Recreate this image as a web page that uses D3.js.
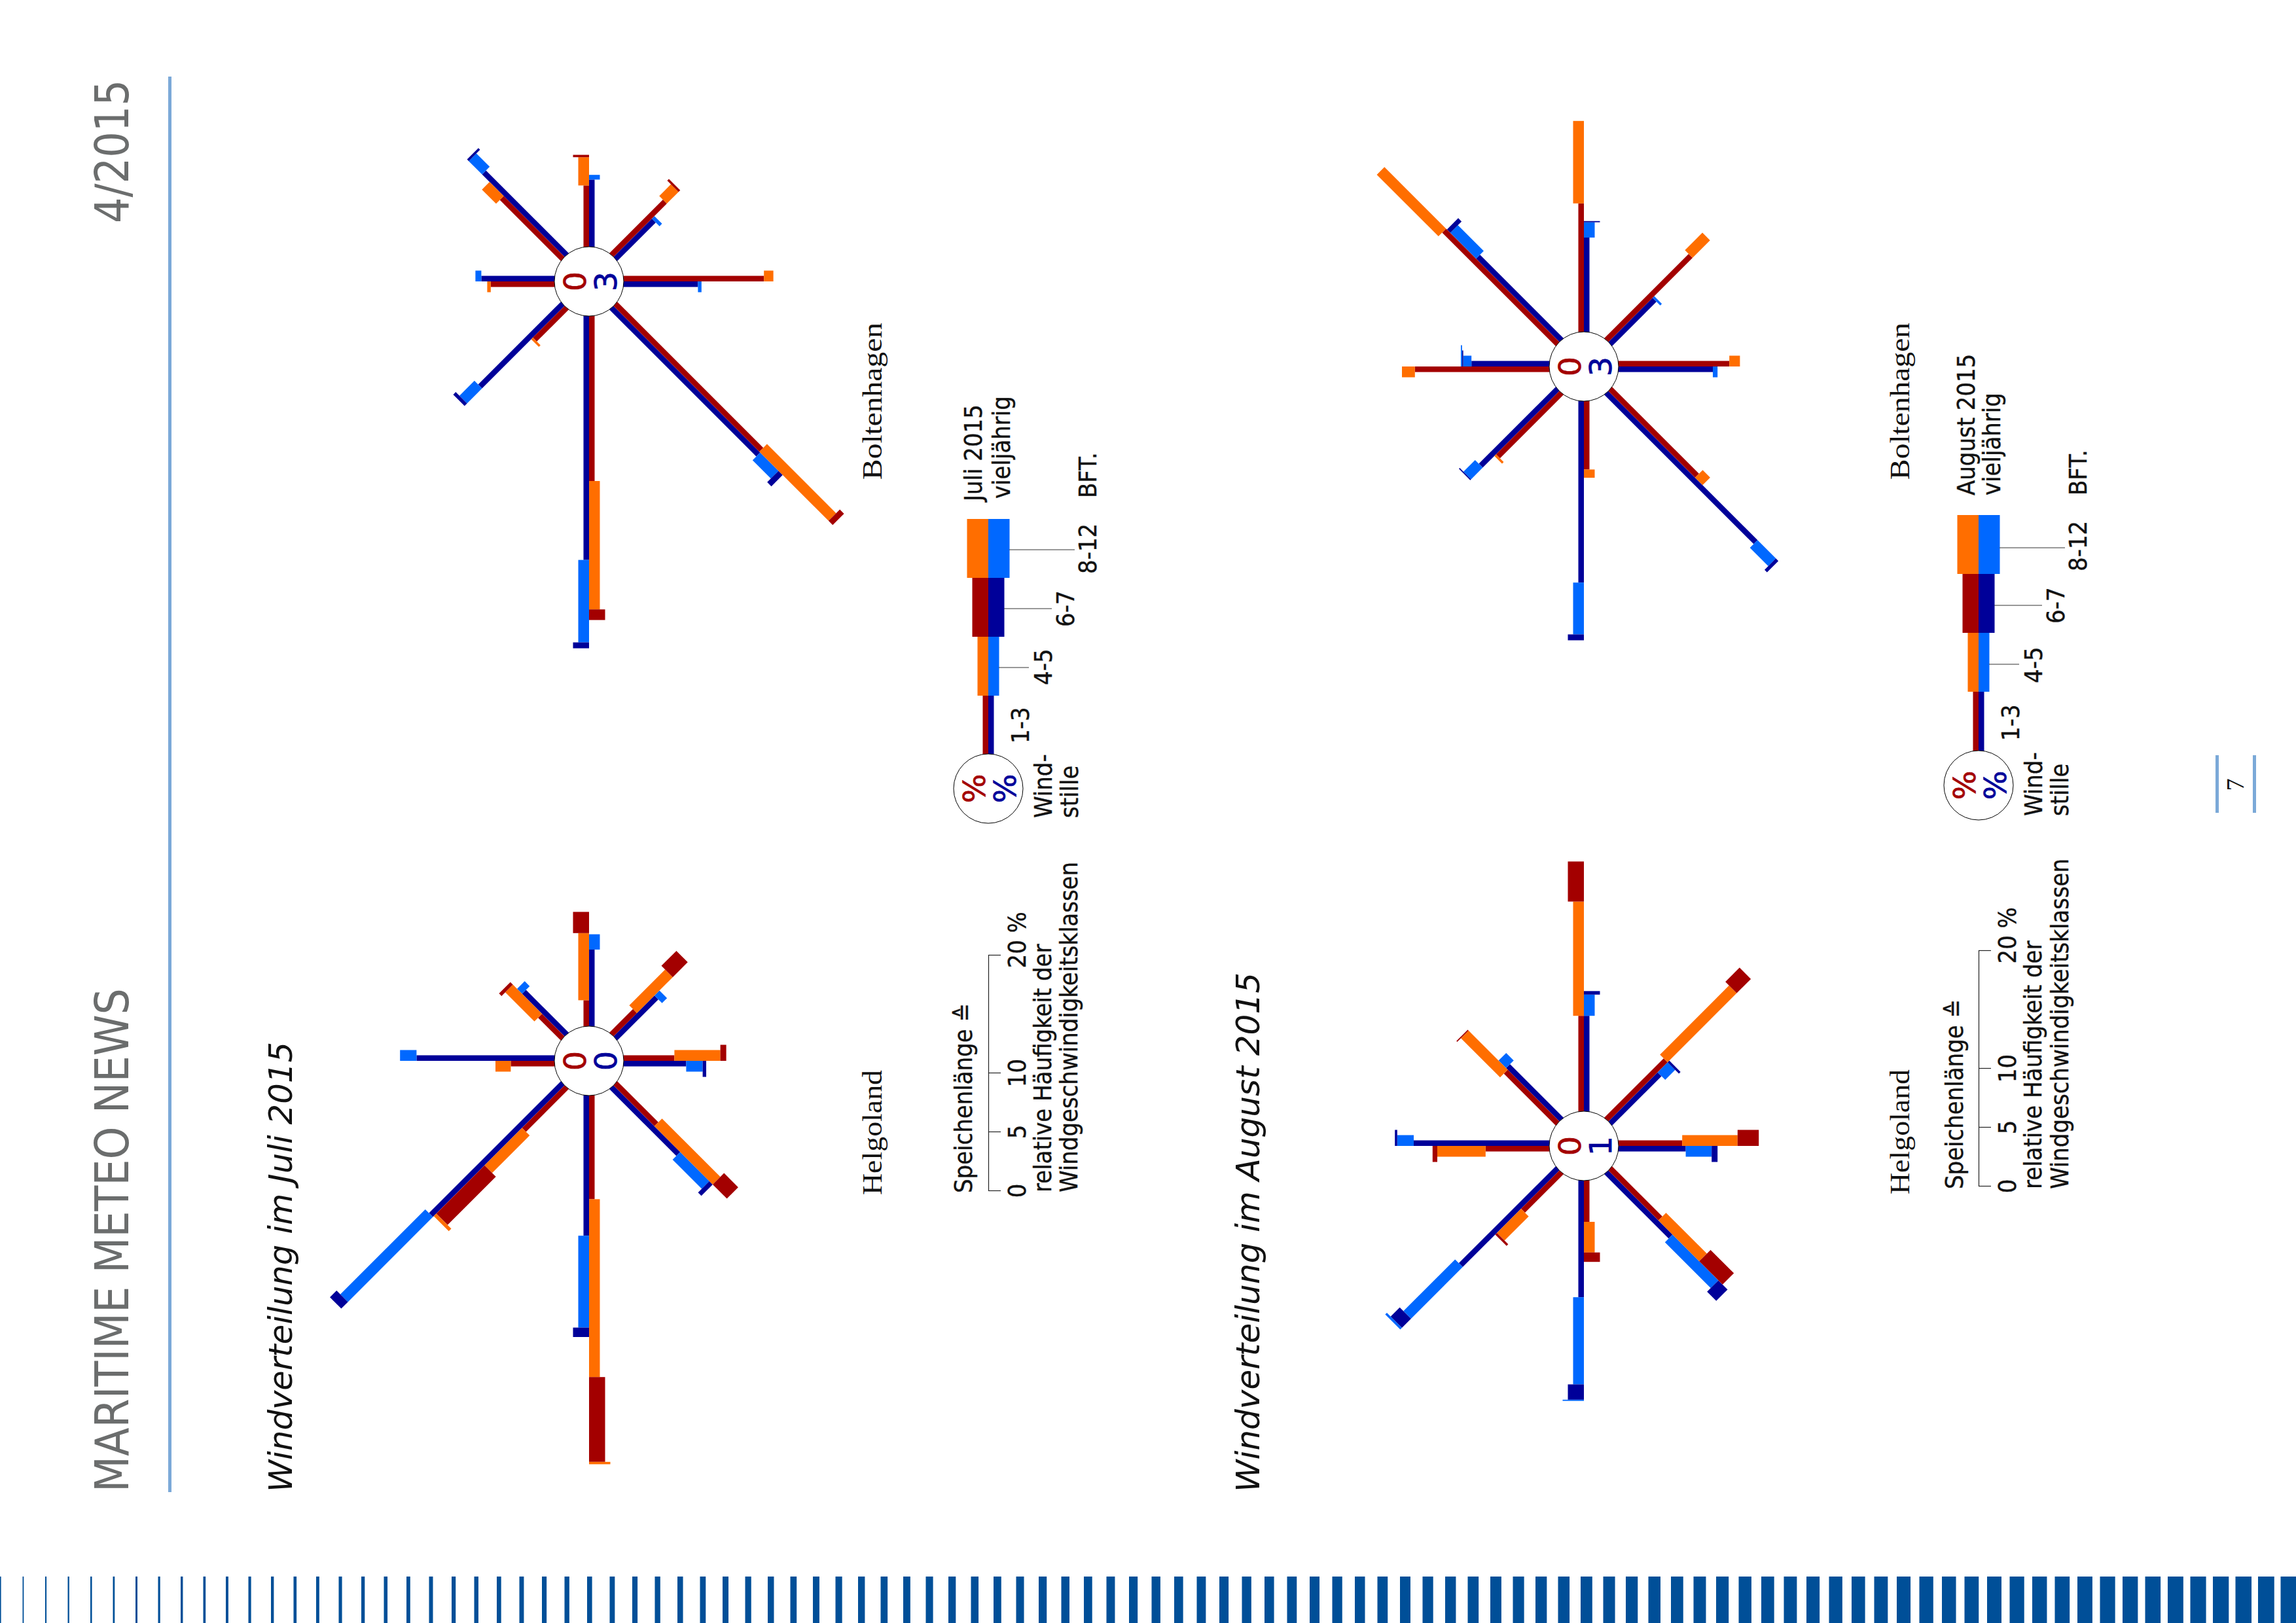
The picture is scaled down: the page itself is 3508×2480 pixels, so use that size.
<!DOCTYPE html>
<html>
<head>
<meta charset="utf-8">
<title>Windverteilung</title>
<script src="https://cdn.jsdelivr.net/npm/d3@7"></script>
<style>
  html, body { margin: 0; padding: 0; background: #fff; }
  svg { display: block; }
</style>
</head>
<body>
<div id="page"></div>
<script>
// Wind directions, clockwise from north (north points to the left of the sideways page)
var directions = ["N", "NE", "E", "SE", "S", "SW", "W", "NW"];

// Beaufort classes, inner to outer
var classes = ["1-3", "4-5", "6-7", "8-12"];

// Share in percent per direction and class: [1-3, 4-5, 6-7, 8-12]
var helgolandJuli = [[3.7, 1.3, 0, 0], [2.7, 3.5, 0.3, 0], [2.2, 5.7, 1.8, 0], [2.8, 4.3, 1.8, 0],
    [4.3, 3.9, 0.5, 0], [4.9, 7.0, 1.7, 0], [8.8, 15.1, 7.2, 0.2], [5.1, 4.5, 5.8, 0.3]];
var helgolandJuliNorm = [[11.7, 1.4, 0, 0], [5.1, 0.6, 0, 0], [6.5, 1.3, 0, 0], [4.9, 0.6, 0, 0],
    [5.3, 1.4, 0.3, 0], [8.0, 3.5, 0.4, 0], [11.9, 7.8, 0.8, 0], [15.8, 10.2, 0.8, 0]];
var boltenhagenJuli = [[5.4, 0.3, 0, 0], [7.3, 1.7, 0, 0], [5.2, 2.4, 0.2, 0], [6.4, 1.4, 0.2, 0],
    [11.9, 0.8, 0, 0], [17.5, 8.3, 0.5, 0], [14.0, 10.9, 0.9, 0], [3.8, 0.2, 0, 0]];
var boltenhagenJuliNorm = [[6.2, 0.5, 0, 0], [9.9, 1.6, 0.2, 0], [5.7, 0.4, 0, 0], [4.6, 0.3, 0, 0],
    [6.3, 0.3, 0, 0], [17.6, 2.2, 0.5, 0], [20.7, 7.0, 0.5, 0], [9.9, 1.8, 0.3, 0]];
var helgolandAugust = [[5.4, 4.1, 0.4, 0], [6.2, 4.7, 0.1, 0], [8.1, 9.7, 3.4, 0], [7.1, 8.3, 1.7, 0],
    [5.4, 4.7, 1.8, 0], [6.0, 4.9, 2.8, 0], [3.5, 2.6, 0.8, 0], [4.6, 2.9, 0.2, 0]];
var helgolandAugustNorm = [[11.5, 1.4, 0.2, 0], [6.4, 0.9, 0, 0], [8.1, 1.8, 0.3, 0], [5.9, 1.2, 0.2, 0],
    [5.7, 2.2, 0.5, 0], [7.7, 5.5, 1.1, 0], [9.9, 7.4, 1.3, 0.1], [11.6, 6.2, 1.1, 0.2]];
var boltenhagenAugust = [[11.4, 1.1, 0, 0], [13.6, 7.4, 0, 0], [10.9, 7.0, 0, 0], [10.1, 2.1, 0, 0],
    [9.4, 0.9, 0, 0], [10.4, 0.9, 0, 0], [5.8, 0.7, 0, 0], [7.6, 0.2, 0, 0]];
var boltenhagenAugustNorm = [[6.6, 0.7, 0.1, 0.1], [10.0, 3.1, 0.4, 0], [8.0, 1.3, 0.1, 0], [5.3, 0.2, 0, 0],
    [8.0, 0.4, 0, 0], [17.9, 2.2, 0.3, 0], [15.4, 4.4, 0.5, 0], [9.2, 1.4, 0.1, 0]];

// Calm share shown in the hub: [month, long-term]
var calmHelgolandJuli = ["0", "0"];
var calmBoltenhagenJuli = ["0", "3"];
var calmHelgolandAugust = ["0", "1"];
var calmBoltenhagenAugust = ["0", "3"];

// Legend
var legendSpoke = [5, 5, 5, 5];
var legendTicks = [0, 5, 10, 20];

var svgWidth = 3508;
var svgHeight = 2480;
var hubRadius = 53;

var monthColors = ["#a30000", "#ff6e00", "#a30000", "#ff6e00"];
var normColors = ["#000099", "#0068ff", "#000099", "#0068ff"];
var grey = "#6b6d6d";
var paleBlue = "#7ba9d8";
var sans = "'DejaVu Sans', sans-serif";
var serif = "'Liberation Serif', serif";

var svg = d3.select("#page")
    .append("svg")
    .attr("width", svgWidth)
    .attr("height", svgHeight)
    .style("background", "#fff");

// spoke length: 20 % = 360 px
var lengthScale = d3.scaleLinear().domain([0, 20]).range([0, 360]);
// spoke thickness per wind class
var widthScale = d3.scaleOrdinal().domain(classes).range([8.5, 16.5, 24.5, 32.5]);
// compass to screen angle, spoke group is drawn pointing up
var angleScale = d3.scalePoint().domain(directions).range([-90, 225]);

// Everything on the page reads bottom to top
function sideText(x, y, str, size, opts) {
    opts = opts || {};
    var t = svg.append("text")
        .attr("transform", `translate(${x}, ${y}) rotate(-90)`)
        .attr("font-family", opts.family || sans)
        .attr("font-size", size)
        .attr("font-style", opts.style || "normal")
        .attr("fill", opts.fill || "#111")
        .attr("text-anchor", opts.anchor || "start")
        .text(str);
    if (opts.length) {
        t.attr("textLength", opts.length).attr("lengthAdjust", "spacingAndGlyphs");
    }
    if (opts.heavy) {
        t.attr("stroke", opts.fill || "#111").attr("stroke-width", opts.heavy);
    }
    return t;
}

// legend lettering is taller than it is wide: keep the length, raise the height
function tallText(t) {
    var len = t.node().getComputedTextLength();
    var size = +t.attr("font-size");
    t.attr("font-size", size * 1.09)
        .attr("textLength", len)
        .attr("lengthAdjust", "spacingAndGlyphs")
        .attr("stroke", "#111")
        .attr("stroke-width", 0.4);
}

// one half of a spoke, side -1 is left of the axis looking outwards
function halfSpoke(group, values, colors, side) {
    var ends = d3.cumsum(values);
    var parts = values.map((v, i) => ({ value: v, end: ends[i], cls: classes[i], color: colors[i], i: i }))
        .filter(d => d.value > 0);

    group.selectAll(null)
        .data(parts)
        .enter()
        .append("rect")
        .attr("x", d => side < 0 ? -widthScale(d.cls) : 0)
        .attr("width", d => widthScale(d.cls))
        .attr("y", d => -(hubRadius + lengthScale(d.end)))
        // first part runs a little under the hub so no gap shows
        .attr("height", d => lengthScale(d.value) + (d.i === 0 ? 5 : 0))
        .attr("fill", d => d.color);
}

function hub(cx, cy, labels) {
    svg.append("circle")
        .attr("cx", cx)
        .attr("cy", cy)
        .attr("r", hubRadius)
        .attr("fill", "#fff")
        .attr("stroke", "#000")
        .attr("stroke-width", 1);
    sideText(cx - 5, cy, labels[0], 47, { anchor: "middle", fill: monthColors[0], heavy: 0.7 });
    sideText(cx + 42, cy, labels[1], 47, { anchor: "middle", fill: normColors[0], heavy: 0.7 });
}

function rose(cx, cy, month, norm, calm) {
    var g = svg.append("g").attr("transform", `translate(${cx}, ${cy})`);
    directions.forEach((dir, i) => {
        var spoke = g.append("g").attr("transform", `rotate(${angleScale(dir)})`);
        halfSpoke(spoke, norm[i], normColors, 1);
        halfSpoke(spoke, month[i], monthColors, -1);
    });
    hub(cx, cy, calm);
}

function legend(cfg) {
    var spoke = svg.append("g").attr("transform", `translate(${cfg.x}, ${cfg.hubY})`);
    var shift = cfg.hubY - cfg.barBase;
    var bars = spoke.append("g").attr("transform", `translate(0, ${-shift + hubRadius})`);
    halfSpoke(bars, legendSpoke, normColors, 1);
    halfSpoke(bars, legendSpoke, monthColors, -1);
    hub(cfg.x, cfg.hubY, ["%", "%"]);

    // leader lines from the three outer classes to their labels
    cfg.leaders.forEach(d => {
        svg.append("line")
            .attr("x1", d[0]).attr("x2", d[1])
            .attr("y1", d[2]).attr("y2", d[2])
            .attr("stroke", "#333")
            .attr("stroke-width", 1);
    });

    // spoke length scale
    var scale = d3.scaleLinear().domain([0, 20]).range([cfg.tick0, cfg.tick0 - lengthScale(20)]);
    var axis = d3.axisRight(scale)
        .tickValues(legendTicks)
        .tickSize(19)
        .tickFormat(d => d === 20 ? "20 %" : d);
    var axisGroup = svg.append("g")
        .attr("transform", `translate(${cfg.x}, 0)`)
        .call(axis);
    axisGroup.selectAll("path, line").attr("stroke", "#222").attr("stroke-width", 1.2);
    axisGroup.selectAll("text")
        .attr("x", null).attr("y", null).attr("dy", null)
        .attr("transform", d => `translate(${cfg.tickText - cfg.x}, ${d === 20 ? 20 : 0}) rotate(-90)`)
        .attr("text-anchor", d => d === 20 ? "start" : "middle")
        .attr("font-family", sans)
        .attr("font-size", 34)
        .attr("fill", "#111")
        .each(function() { tallText(d3.select(this)); });

    cfg.labels.forEach(d => tallText(sideText(d[0], d[1], d[2], 34)));
}

// Stripes along the bottom edge, getting wider to the right
var stripeWidth = d3.scaleLinear().domain([0, 101]).range([1.6, 25]);
svg.selectAll(".stripe")
    .data(d3.range(0, 102))
    .enter()
    .append("rect")
    .attr("class", "stripe")
    .attr("x", d => d * 34.5)
    .attr("y", 2409)
    .attr("width", d => stripeWidth(d))
    .attr("height", 71)
    .attr("fill", "#004f98");

// Page head
sideText(196, 2280, "MARITIME METEO NEWS", 71, { fill: grey, length: 770 });
sideText(196, 341, "4/2015", 71, { fill: grey, length: 219 });
svg.append("rect").attr("x", 257).attr("y", 117).attr("width", 5).attr("height", 2163).attr("fill", paleBlue);

// Page number
svg.append("rect").attr("x", 3385).attr("y", 1154).attr("width", 5).attr("height", 88).attr("fill", paleBlue);
svg.append("rect").attr("x", 3442).attr("y", 1154).attr("width", 5).attr("height", 88).attr("fill", paleBlue);
sideText(3428, 1199, "7", 38, { family: serif, anchor: "middle" });

// Titles
sideText(446, 2280, "Windverteilung im Juli 2015", 49.5, { style: "italic", length: 688 });
sideText(1924, 2280, "Windverteilung im August 2015", 49.5, { style: "italic", length: 794 });

// Roses
rose(900, 1621, helgolandJuli, helgolandJuliNorm, calmHelgolandJuli);
rose(900, 430, boltenhagenJuli, boltenhagenJuliNorm, calmBoltenhagenJuli);
rose(2420, 1751, helgolandAugust, helgolandAugustNorm, calmHelgolandAugust);
rose(2420, 560, boltenhagenAugust, boltenhagenAugustNorm, calmBoltenhagenAugust);

// Station names
sideText(1347, 1826, "Helgoland", 43, { family: serif, length: 191 });
sideText(1347, 733, "Boltenhagen", 43, { family: serif, length: 240 });
sideText(2917, 1825, "Helgoland", 43, { family: serif, length: 191 });
sideText(2917, 733, "Boltenhagen", 43, { family: serif, length: 240 });

// Legends
legend({
    x: 1510, hubY: 1205, barBase: 1153, tick0: 1819, tickText: 1567,
    leaders: [[1542, 1642, 840], [1534, 1607, 930], [1526, 1572, 1020]],
    labels: [
        [1500, 766, "Juli 2015"], [1543, 762, "vieljährig"],
        [1675, 877, "8-12"], [1675, 761, "BFT."], [1641, 958, "6-7"],
        [1607, 1047, "4-5"], [1572, 1136, "1-3"],
        [1607, 1250, "Wind-"], [1647, 1250, "stille"],
        [1485, 1823, "Speichenlänge ≙"],
        [1606, 1822, "relative Häufigkeit der"],
        [1646, 1822, "Windgeschwindigkeitsklassen"]
    ]
});
legend({
    x: 3023, hubY: 1200, barBase: 1147, tick0: 1812, tickText: 3080,
    leaders: [[3055, 3155, 837], [3047, 3120, 925], [3039, 3085, 1015]],
    labels: [
        [3017, 757, "August 2015"], [3056, 757, "vieljährig"],
        [3188, 873, "8-12"], [3188, 757, "BFT."], [3154, 953, "6-7"],
        [3120, 1044, "4-5"], [3085, 1132, "1-3"],
        [3120, 1247, "Wind-"], [3160, 1247, "stille"],
        [2999, 1817, "Speichenlänge ≙"],
        [3119, 1817, "relative Häufigkeit der"],
        [3160, 1817, "Windgeschwindigkeitsklassen"]
    ]
});
</script>
</body>
</html>
